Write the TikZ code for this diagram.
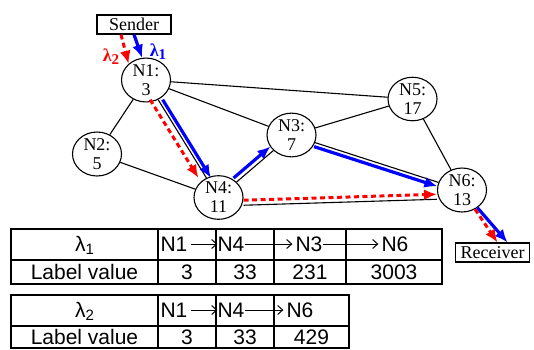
\documentclass[tikz,border=0pt]{standalone}
\usepackage{fontspec}
\setmainfont{Liberation Serif}
\newfontfamily\tabfont{Liberation Sans}
\usetikzlibrary{shapes.geometric,arrows.meta}
\newlength{\du}
\setlength{\du}{1pt}
\definecolor{pathblue}{rgb}{0.000000, 0.000000, 1.000000}
\definecolor{pathred}{rgb}{1.000000, 0.000000, 0.000000}
\tikzset{
  router/.style={ellipse,draw,line width=1.1\du,minimum width=49\du,minimum height=35\du,
    inner sep=0pt,align=center,font=\fontsize{18}{19}\selectfont},
  endbox/.style={rectangle,draw,line width=1.1\du,minimum width=74\du,minimum height=19\du,
    inner sep=0pt,font=\fontsize{18}{19}\selectfont},
  link/.style={line width=1.1\du},
  bluepath/.style={pathblue,line width=3.2\du,-{Latex[length=13pt,width=11pt]}},
  redpath/.style={pathred,line width=3\du,dash pattern=on 5\du off 3.5\du,
    -{Latex[length=13pt,width=11pt]}},
  lamlabel/.style={font=\fontsize{18}{18}\selectfont\bfseries,inner sep=0pt},
  tabcell/.style={font=\tabfont\fontsize{21}{21}\selectfont,inner sep=0pt},
  tabrule/.style={line width=1.3\du},
  hop/.style={line width=1\du,-{Straight Barb[length=5pt,width=9pt]}},
}
\newcommand{\lamsub}[1]{λ{\fontsize{15}{15}\selectfont\raisebox{-3\du}{#1}}}
\begin{document}
\begin{tikzpicture}
\pgftransformxscale{1.000000}
\pgftransformyscale{-1.000000}
\useasboundingbox (0\du,0\du) rectangle (534\du,349\du);
% network
\node[endbox] (snd) at (134\du,24.5\du){Sender};
\node[endbox] (rcv) at (492.5\du,252.5\du){Receiver};
\node[router] (n1) at (146\du,80\du){N1:\\3};
\node[router] (n2) at (97\du,154\du){N2:\\5};
\node[router] (n3) at (291.5\du,135\du){N3:\\7};
\node[router] (n4) at (218.5\du,197.5\du){N4:\\11};
\node[router] (n5) at (412.5\du,99\du){N5:\\17};
\node[router] (n6) at (462\du,190\du){N6:\\13};
\node[lamlabel,pathred] (lam2) at (111\du,57\du){\lamsub{2}};
\node[lamlabel,pathblue] (lam1) at (158\du,52\du){\lamsub{1}};
\draw[link] (n1) -- (n2);
\draw[link] (n2) -- (n4);
\draw[link] (n1) -- (n5);
\draw[link] (n1) -- (n3);
\draw[link] (n3) -- (n5);
\draw[link] (n5) -- (n6);
\draw[link] (n1) -- (n4);
\draw[link] (n4) -- (n3);
\draw[link] (n3) -- (n6);
\draw[link,transform canvas={yshift=-8.5\du}] (n4) -- (n6);
% lambda 1
\draw[bluepath] (snd.south) -- (n1.100);
\draw[bluepath,transform canvas={xshift=4.5\du}] (n1) -- (n4);
\draw[bluepath,transform canvas={xshift=-3\du,yshift=4\du}] (n4) -- (n3);
\draw[bluepath,transform canvas={xshift=-1\du,yshift=-4\du}] (n3) -- (n6);
\draw[bluepath] (n6) -- ([xshift=15\du]rcv.north);
% lambda 2
\draw[redpath] ([xshift=-13\du]snd.south) -- (n1.137);
\draw[redpath,transform canvas={xshift=-8\du}] (n1) -- (n4);
\draw[redpath,transform canvas={yshift=-3.5\du}] (n4) -- (n6);
\draw[redpath] (n6) -- ([xshift=5\du]rcv.north);
% table for lambda 1
\draw[tabrule] (11\du,229\du) rectangle (442\du,284\du);
\draw[tabrule] (11\du,260\du) -- (442\du,260\du);
\draw[tabrule] (158\du,229\du) -- (158\du,284\du);
\draw[tabrule] (216\du,229\du) -- (216\du,284\du);
\draw[tabrule] (274\du,229\du) -- (274\du,284\du);
\draw[tabrule] (346\du,229\du) -- (346\du,284\du);
\node[tabcell] (ta) at (84.5\du,245\du){\lamsub{1}};
\node[tabcell] (tan1) at (174\du,244\du){N1};
\node[tabcell] (tan4) at (231\du,244\du){N4};
\node[tabcell] (tan3) at (309\du,244\du){N3};
\node[tabcell] (tan6) at (395\du,244\du){N6};
\draw[hop,shorten <=3\du] (tan1) -- (tan4);
\draw[hop,shorten >=3\du] (tan4) -- (tan3);
\draw[hop,shorten >=3\du] (tan3) -- (tan6);
\node[tabcell] (tb) at (84.5\du,272\du){Label value};
\node[tabcell] (tb1) at (187\du,272\du){3};
\node[tabcell] (tb2) at (245\du,272\du){33};
\node[tabcell] (tb3) at (310\du,272\du){231};
\node[tabcell] (tb4) at (394\du,272\du){3003};
% table for lambda 2
\draw[tabrule] (11\du,295\du) rectangle (349\du,348\du);
\draw[tabrule] (11\du,326\du) -- (349\du,326\du);
\draw[tabrule] (158\du,295\du) -- (158\du,348\du);
\draw[tabrule] (216\du,295\du) -- (216\du,348\du);
\draw[tabrule] (274\du,295\du) -- (274\du,348\du);
\node[tabcell] (tc) at (84.5\du,311\du){\lamsub{2}};
\node[tabcell] (tcn1) at (174\du,310\du){N1};
\node[tabcell] (tcn4) at (231\du,310\du){N4};
\node[tabcell] (tcn6) at (300\du,310\du){N6};
\draw[hop,shorten <=3\du] (tcn1) -- (tcn4);
\draw[hop,shorten >=3\du] (tcn4) -- (tcn6);
\node[tabcell] (td) at (84.5\du,337\du){Label value};
\node[tabcell] (td1) at (187\du,337\du){3};
\node[tabcell] (td2) at (245\du,337\du){33};
\node[tabcell] (td3) at (311.5\du,337\du){429};
\end{tikzpicture}
\end{document}
